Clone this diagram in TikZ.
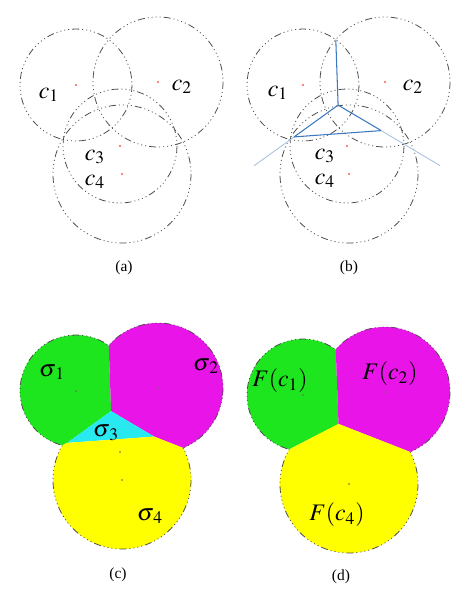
\documentclass[tikz,border=0pt]{standalone}
\usepackage{mathptmx}
\usepackage{fontspec}
\setmainfont{Liberation Serif}
\definecolor{cellgreen}{RGB}{30,230,30}
\definecolor{cellmag}{RGB}{232,20,232}
\definecolor{cellcyan}{RGB}{40,232,240}
\definecolor{cellyel}{RGB}{255,255,0}
\definecolor{axisblue}{RGB}{60,120,190}

\begin{document}
\begin{tikzpicture}[x=0.2mm,y=-0.2mm]
  \tikzstyle{ball}=[draw=black!70,line width=0.45pt,dash pattern=on 1.4mm off 0.6mm on 0.2mm off 0.6mm on 0.2mm off 0.6mm on 0.2mm off 0.6mm on 0.2mm off 0.6mm]
  \tikzstyle{ctr}=[fill=red!65]
  \tikzstyle{ctrdot}=[fill=black!60]
  \tikzstyle{radaxis}=[draw=axisblue,line width=0.6pt]
  \tikzstyle{faintaxis}=[draw=axisblue!45,line width=0.5pt]
  \tikzstyle{lbl}=[font=\fontsize{13.5}{15}\selectfont,inner sep=0pt]
  \tikzstyle{captxt}=[font=\fontsize{8.8}{10}\selectfont,inner sep=0pt]
  \useasboundingbox (0,0) rectangle (453,592);

  % (a) the four balls
  \begin{scope}
    \foreach \cx/\cy/\r in {76/85/56,158/82/65,120/146/57,122/174/69}{
      \draw[ball] (\cx,\cy) circle (\r);
      \fill[ctr] (\cx,\cy) circle (1.2);
    }
    \node[lbl] (ca1) at (49,95) {$c_1$};
    \node[lbl] (ca2) at (182,87) {$c_2$};
    \node[lbl] (ca3) at (95,157) {$c_3$};
    \node[lbl] (ca4) at (95,182) {$c_4$};
    \node[captxt] (capa) at (124,268) {(a)};
  \end{scope}

  % (b) balls with the radical axes
  \begin{scope}[shift={(227,0)}]
    \foreach \cx/\cy/\r in {76/85/56,158/82/65,120/146/57,122/174/69}{
      \draw[ball] (\cx,\cy) circle (\r);
      \fill[ctr] (\cx,\cy) circle (1.2);
    }
    \coordinate (top12) at (108.8,39.6);
    \coordinate (v123) at (111.1,105.1);
    \coordinate (v134) at (67.1,136.9);
    \coordinate (v234) at (154.2,130.6);
    \coordinate (e13) at (27,165.8);
    \coordinate (e23) at (213,165.6);
    \draw[radaxis] (top12) -- (v123);
    \draw[radaxis] (v123) -- (v134);
    \draw[radaxis] (v123) -- (v234);
    \draw[faintaxis] (v134) -- (e13);
    \draw[faintaxis] (v234) -- (e23);
    \draw[radaxis] (v134) -- (v234);
    \node[lbl] (cb1) at (51,93) {$c_1$};
    \node[lbl] (cb2) at (186,87) {$c_2$};
    \node[lbl] (cb3) at (98,156) {$c_3$};
    \node[lbl] (cb4) at (98,181) {$c_4$};
    \node[captxt] (capb) at (122,268) {(b)};
  \end{scope}

  % (c) power cells of all four balls
  \begin{scope}[shift={(0,306)}]
    \begin{scope}
      \clip (103.6,-100) -- (111.1,105.1) -- (67.1,136.9) -- (-100,223.2) -- (-100,-100) -- cycle;
      \fill[cellgreen] (76,85) circle (56);
      \draw[ball] (76,85) circle (56);
    \end{scope}
    \begin{scope}
      \clip (103.6,-100) -- (400,-100) -- (400,226.8) -- (154.2,130.6) -- (111.1,105.1) -- cycle;
      \fill[cellmag] (158,82) circle (65);
      \draw[ball] (158,82) circle (65);
    \end{scope}
    \begin{scope}
      \clip (111.1,105.1) -- (67.1,136.9) -- (154.2,130.6) -- cycle;
      \fill[cellcyan] (120,146) circle (57);
    \end{scope}
    \begin{scope}
      \clip (67.1,136.9) -- (154.2,130.6) -- (400,226.8) -- (400,400) -- (-100,400) -- (-100,223.2) -- cycle;
      \fill[cellyel] (122,174) circle (69);
      \draw[ball] (122,174) circle (69);
    \end{scope}
    \foreach \cx/\cy in {76/85,158/82,120/146,122/174}
      \fill[ctrdot] (\cx,\cy) circle (0.9);
    \node[lbl] (s1) at (52,66) {$\sigma_{\,1}$};
    \node[lbl] (s2) at (206,60) {$\sigma_{\,2}$};
    \node[lbl] (s3) at (106,127) {$\sigma_{\,3}$};
    \node[lbl] (s4) at (150,210) {$\sigma_{\,4}$};
    \node[captxt] (capc) at (118,269) {(c)};
  \end{scope}

  % (d) cells once c3 is dropped
  \begin{scope}[shift={(227,310)}]
    \begin{scope}
      \clip (103.6,-100) -- (111.5,113.9) -- (-100,223.2) -- (-100,-100) -- cycle;
      \fill[cellgreen] (76,85) circle (56);
      \draw[ball] (76,85) circle (56);
    \end{scope}
    \begin{scope}
      \clip (103.6,-100) -- (400,-100) -- (400,226.8) -- (111.5,113.9) -- cycle;
      \fill[cellmag] (158,82) circle (65);
      \draw[ball] (158,82) circle (65);
    \end{scope}
    \begin{scope}
      \clip (111.5,113.9) -- (400,226.8) -- (400,400) -- (-100,400) -- (-100,223.2) -- cycle;
      \fill[cellyel] (122,174) circle (69);
      \draw[ball] (122,174) circle (69);
    \end{scope}
    \foreach \cx/\cy in {76/85,158/82,122/174}
      \fill[ctrdot] (\cx,\cy) circle (0.9);
    \node[lbl] (f1) at (53,71) {$F(c_1)$};
    \node[lbl] (f2) at (163,64) {$F(c_2)$};
    \node[lbl] (f4) at (110,205) {$F(c_4)$};
    \node[captxt] (capd) at (114,267) {(d)};
  \end{scope}
\end{tikzpicture}
\end{document}
